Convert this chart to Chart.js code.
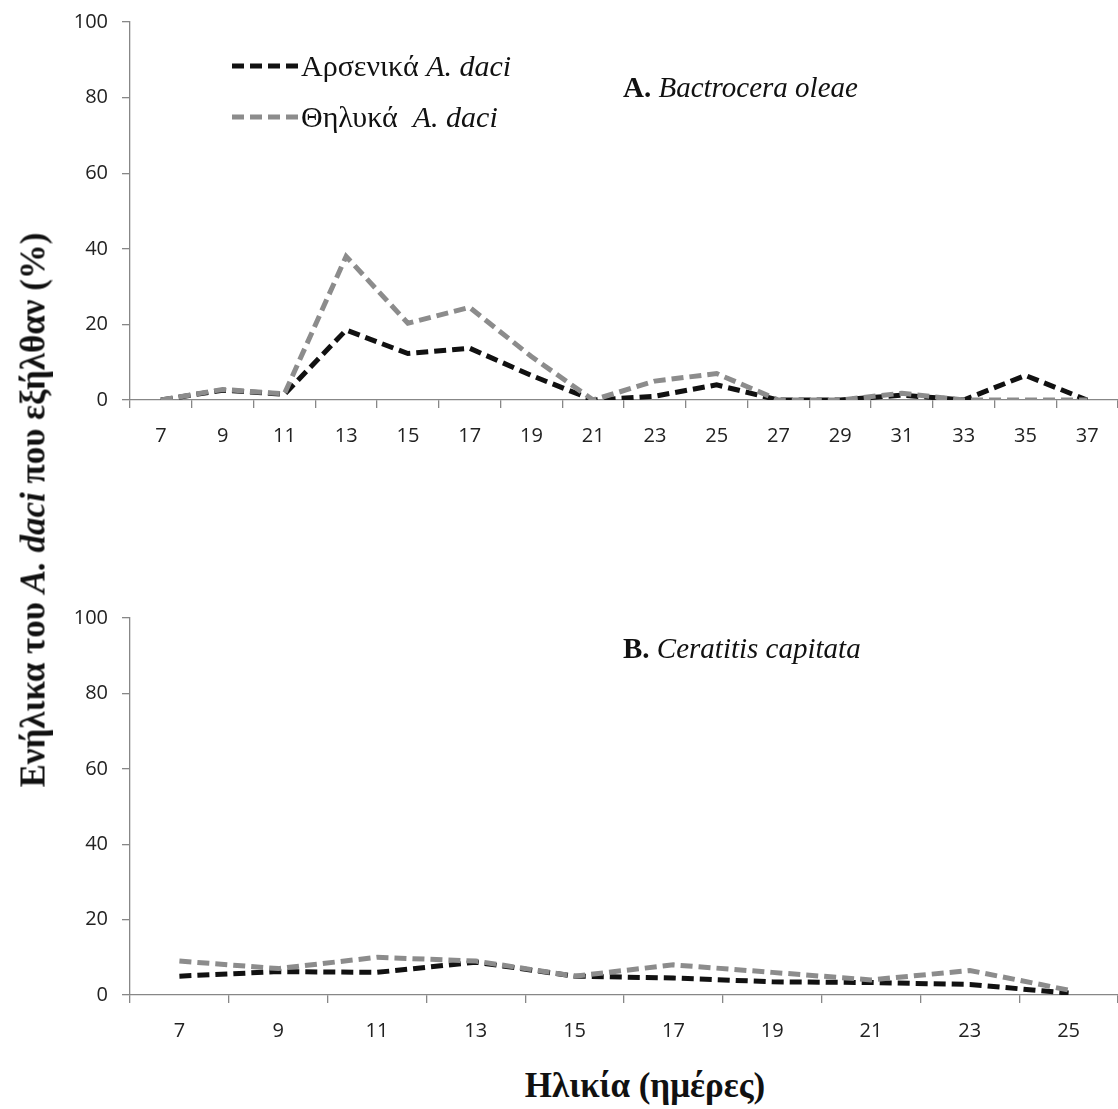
<!DOCTYPE html>
<html>
<head>
<meta charset="utf-8">
<script src="https://cdn.jsdelivr.net/npm/chart.js@4.4.0/dist/chart.umd.min.js"></script>
<style>
  body { margin: 0; background: #fff; width: 1118px; height: 1109px; position: relative; overflow: hidden; }
  canvas { position: absolute; left: 0; }
  #topBox { position: absolute; left: 0; top: -20px; width: 1118px; height: 490px; }
  #bottomBox { position: absolute; left: 0; top: 580px; width: 1118px; height: 480px; }
  .txt { position: absolute; font-family: "Liberation Serif", serif; color: #111; white-space: nowrap; line-height: 1; }
  .legend { font-size: 30px; }
  .panel { font-size: 29px; }
  .centered { transform: translate(-50%, -50%); }
  .yTitle { font-size: 35px; font-weight: bold; transform: translate(-50%, -50%) rotate(-90deg); }
  .xTitle { font-size: 35px; font-weight: bold; }
</style>
</head>
<body>
<div id="topBox"><canvas id="topChart"></canvas></div>
<div id="bottomBox"><canvas id="bottomChart"></canvas></div>

<div class="txt legend" style="left:301px; top:51px;">Αρσενικά <i>A. daci</i></div>
<div class="txt legend" style="left:301px; top:102px;">Θηλυκά&nbsp; <i>A. daci</i></div>
<div class="txt panel" style="left:623px; top:73px;"><b>A.</b> <i>Bactrocera oleae</i></div>
<div class="txt panel" style="left:623px; top:634px;"><b>B.</b> <i>Ceratitis capitata</i></div>
<div class="txt yTitle" style="left:33px; top:510px;">Ενήλικα του <i>A. daci</i> που εξήλθαν (%)</div>
<div class="txt xTitle centered" style="left:645px; top:1085px;">Ηλικία (ημέρες)</div>

<script>
// B. oleae hosts
const oleaeDays = ['7', '9', '11', '13', '15', '17', '19', '21', '23', '25', '27', '29', '31', '33', '35', '37'];
const oleaeMales = [0, 2.6, 1.5, 18.5, 12.3, 13.7, 6.5, 0, 1, 4, 0, 0, 1.3, 0, 6.5, 0];
const oleaeFemales = [0, 2.8, 1.6, 38, 20.3, 24.5, 11.5, 0, 5, 7, 0, 0, 1.8, 0, 0, 0];

// C. capitata hosts
const capitataDays = ['7', '9', '11', '13', '15', '17', '19', '21', '23', '25'];
const capitataMales = [5, 6.2, 6, 8.7, 5, 4.5, 3.5, 3.3, 2.8, 0.5];
const capitataFemales = [9, 7, 10, 9, 5, 8, 6, 4, 6.5, 1.3];

const yTicks = [0, 20, 40, 60, 80, 100];

const MALE_COLOR = '#111111';
const FEMALE_COLOR = '#8c8c8c';
const AXIS_COLOR = '#878787';

function makeSets(males, females) {
    // females first so the grey line sits on top where they overlap
    return [
        { label: 'Θηλυκά A. daci', data: females, borderColor: FEMALE_COLOR },
        { label: 'Αρσενικά A. daci', data: males, borderColor: MALE_COLOR }
    ].map(d => Object.assign(d, {
        borderWidth: 5,
        borderDash: [12, 6],
        borderCapStyle: 'butt',
        pointRadius: 0,
        tension: 0,
        fill: false
    }));
}

// dashed samples for the legend next to the html labels (canvas starts 20px above the page)
const legendSamples = {
    id: 'legendSamples',
    afterDraw(chart) {
        const ctx = chart.ctx;
        const rows = [[1, 86], [0, 137]];
        rows.forEach(([idx, y]) => {
            const ds = chart.data.datasets[idx];
            ctx.save();
            ctx.strokeStyle = ds.borderColor;
            ctx.lineWidth = ds.borderWidth;
            ctx.setLineDash(ds.borderDash);
            ctx.beginPath();
            ctx.moveTo(232, y);
            ctx.lineTo(298, y);
            ctx.stroke();
            ctx.restore();
        });
    }
};

function makeChart(id, labels, males, females, padTop, xHeight, plugins) {
    return new Chart(document.getElementById(id), {
        type: 'line',
        data: { labels: labels, datasets: makeSets(males, females) },
        options: {
            responsive: true,
            maintainAspectRatio: false,
            animation: false,
            layout: { padding: { top: padTop, left: 0, right: 0, bottom: 0 } },
            plugins: { legend: { display: false }, tooltip: { enabled: false } },
            scales: {
                x: {
                    type: 'category',
                    offset: true,
                    afterFit: s => { s.height = xHeight; },
                    grid: { display: true, offset: true, drawOnChartArea: false, tickLength: 8, color: AXIS_COLOR, lineWidth: 1.3 },
                    border: { display: true, color: AXIS_COLOR, width: 1.3 },
                    ticks: { autoSkip: false, maxRotation: 0, padding: 16, color: '#222', font: { family: 'Open Sans', size: 20 } }
                },
                y: {
                    min: 0,
                    max: 100,
                    afterFit: s => { s.width = 130; },
                    afterBuildTicks: s => { s.ticks = yTicks.map(v => ({ value: v })); },
                    grid: { display: true, drawOnChartArea: false, tickLength: 8, color: AXIS_COLOR, lineWidth: 1.3 },
                    border: { display: true, color: AXIS_COLOR, width: 1.3 },
                    ticks: { padding: 14, color: '#222', font: { family: 'Open Sans', size: 20 } }
                }
            }
        },
        plugins: plugins
    });
}

makeChart('topChart', oleaeDays, oleaeMales, oleaeFemales, 42, 70, [legendSamples]);
makeChart('bottomChart', capitataDays, capitataMales, capitataFemales, 38, 65, []);
</script>
</body>
</html>
